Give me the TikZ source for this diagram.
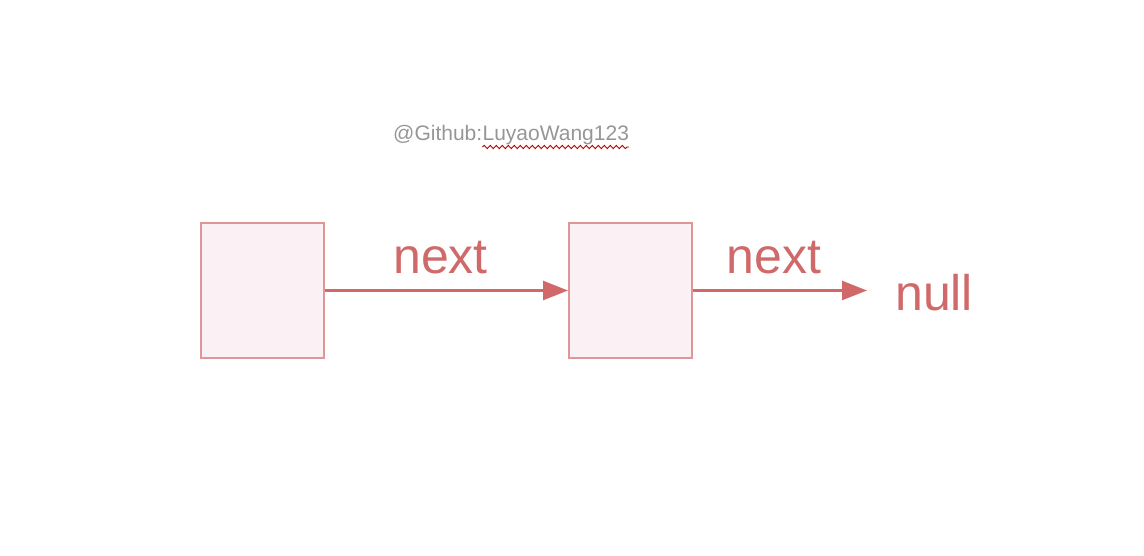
\documentclass[tikz,border=0pt]{standalone}
\usepackage{fontspec}
\setmainfont{Liberation Sans}
\usetikzlibrary{arrows.meta}
\usetikzlibrary{positioning}
\usetikzlibrary{decorations.pathmorphing}

\definecolor{cellline}{RGB}{224,150,152}
\definecolor{cellfill}{RGB}{251,240,244}
\definecolor{linkred}{RGB}{208,106,106}
\definecolor{markgray}{RGB}{150,150,150}

\tikzset{
    cell/.style={draw=cellline, fill=cellfill, line width=2pt, minimum width=123pt, minimum height=135pt, inner sep=0pt},
    link/.style={draw=linkred, line width=2.5pt, -{Triangle[length=25pt,width=19pt]}},
    lbl/.style={text=linkred, font=\fontsize{50}{60}\selectfont, inner sep=0pt},
    wmark/.style={text=markgray, font=\fontsize{21}{25}\selectfont, inner sep=0pt}
}

\begin{document}
\begin{tikzpicture}[x=1pt, y=-1pt]
    \useasboundingbox (0,0) rectangle (1144,556);
    \foreach \i/\x in {1/262.5, 2/630.5} {
        \node[cell] (box\i) at (\x,290.5) {};
    }
    \node[lbl, anchor=west] (nul) at (895,293) {null};
    \draw[link] (box1.east) -- node[lbl, above=15pt, xshift=-6pt] (next1) {next} (box2.west);
    \draw[link, shorten >=28pt] (box2.east) -- node[lbl, above=15pt, xshift=-20pt] (next2) {next} (box2.east -| nul.west);
    % watermark
    \node[wmark, anchor=base west] (gh) at (393,141) {@Github:};
    \node[wmark, anchor=base west] (name) at (gh.base east) {LuyaoWang123};
    \draw[red!75!black, line width=0.9pt, decorate, decoration={snake, segment length=6pt, amplitude=1.6pt}]
        ([yshift=-6pt]name.base west) -- ([yshift=-6pt]name.base east);
\end{tikzpicture}
\end{document}
